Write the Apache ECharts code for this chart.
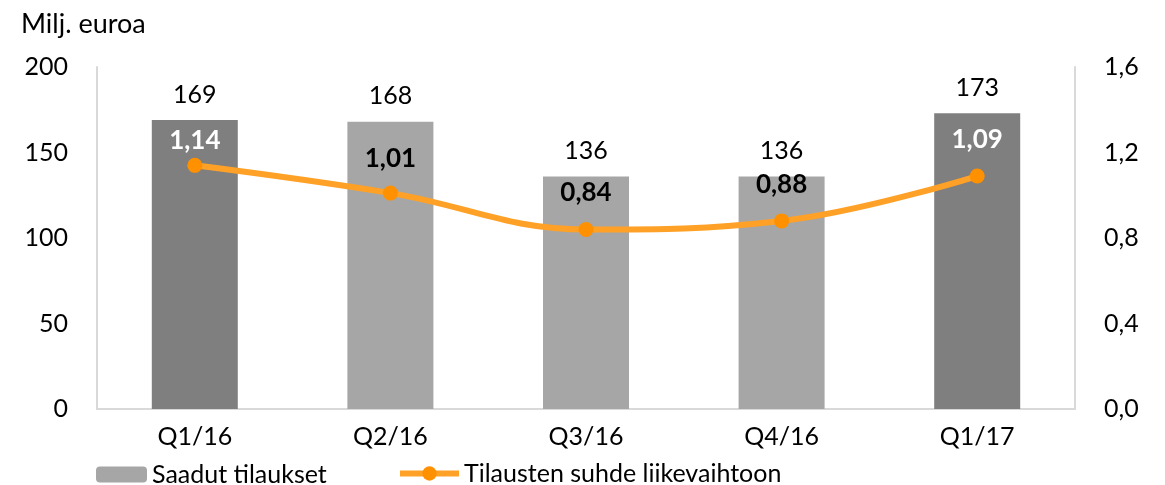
<!DOCTYPE html>
<html>
<head>
<meta charset="utf-8">
<script src="https://cdn.jsdelivr.net/npm/echarts@6/dist/echarts.min.js"></script>
<style>html,body{margin:0;padding:0;background:#fff}#c{width:1165px;height:485px}</style>
</head>
<body>
<div id="c"></div>
<script>
var categories = ['Q1/16', 'Q2/16', 'Q3/16', 'Q4/16', 'Q1/17'];
var orders = [169, 168, 136, 136, 173];
var ratios = [1.14, 1.01, 0.84, 0.88, 1.09];
var leftTicks = [0, 50, 100, 150, 200];
var rightTicks = [0, 0.4, 0.8, 1.2, 1.6];
var barSeriesName = 'Saadut tilaukset';
var lineSeriesName = 'Tilausten suhde liikevaihtoon';
var unitTitle = 'Milj. euroa';

var FONT = 'Lato, "Open Sans", sans-serif';
var FS = 25;
var DARK = '#7f7f7f', LIGHT = '#a6a6a6';
var barColors = [DARK, LIGHT, LIGHT, LIGHT, DARK];
var lineLabelColors = ['#ffffff', '#000000', '#000000', '#000000', '#ffffff'];
var lineLabelDist = [4, 14, 16, 16, 16];

function fmt(v) { return v.toFixed(2).replace('.', ','); }

var chart = echarts.init(document.getElementById('c'), null, {renderer: 'canvas'});
chart.setOption({
  animation: false,
  backgroundColor: '#fff',
  title: {
    text: unitTitle, left: 16, top: 6,
    textStyle: {fontFamily: FONT, fontSize: 27, fontWeight: 'normal', color: '#000'}
  },
  grid: {left: 97, right: 90, top: 67, bottom: 76, containLabel: false},
  legend: [{
    left: 91, top: 457, itemWidth: 51, itemHeight: 16, itemGap: 6,
    data: [barSeriesName],
    textStyle: {fontFamily: FONT, fontSize: FS, color: '#000'}
  }, {
    left: 392, top: 456, itemWidth: 59, itemHeight: 18,
    data: [{name: lineSeriesName, lineStyle: {width: 6}}],
    textStyle: {fontFamily: FONT, fontSize: FS, color: '#000'}
  }],
  xAxis: {
    type: 'category', data: categories,
    axisLine: {show: true, lineStyle: {color: '#d9d9d9', width: 2}},
    axisTick: {show: false},
    axisLabel: {margin: 15, fontFamily: FONT, fontSize: FS, color: '#000'}
  },
  yAxis: [{
    type: 'value', min: leftTicks[0], max: leftTicks[leftTicks.length - 1], interval: 50,
    axisLine: {show: true, lineStyle: {color: '#d9d9d9', width: 2}},
    axisTick: {show: false}, splitLine: {show: false},
    axisLabel: {margin: 29, fontFamily: FONT, fontSize: FS, color: '#000'}
  }, {
    type: 'value', min: rightTicks[0], max: rightTicks[rightTicks.length - 1], interval: 0.4,
    position: 'right',
    axisLine: {show: true, lineStyle: {color: '#d9d9d9', width: 2}},
    axisTick: {show: false}, splitLine: {show: false},
    axisLabel: {margin: 29, fontFamily: FONT, fontSize: FS, color: '#000',
      formatter: function (v) { return v.toFixed(1).replace('.', ','); }}
  }],
  series: [{
    name: barSeriesName, type: 'bar', yAxisIndex: 0, barWidth: 86,
    itemStyle: {color: LIGHT},
    data: orders.map(function (v, i) { return {value: v, itemStyle: {color: barColors[i]}}; }),
    label: {show: true, position: 'top', distance: 13, fontFamily: FONT, fontSize: FS, color: '#000'}
  }, {
    name: lineSeriesName, type: 'line', yAxisIndex: 1, smooth: 0.4,
    symbol: 'circle', symbolSize: 15,
    lineStyle: {color: '#ffa126', width: 6},
    itemStyle: {color: '#ff9100'},
    data: ratios.map(function (v, i) {
      return {value: v, label: {color: lineLabelColors[i], distance: lineLabelDist[i]}};
    }),
    label: {show: true, position: 'top', fontFamily: FONT, fontSize: FS + 1, fontWeight: 'bold',
      formatter: function (p) { return fmt(p.value); }},
    z: 3
  }]
});
</script>
</body>
</html>
